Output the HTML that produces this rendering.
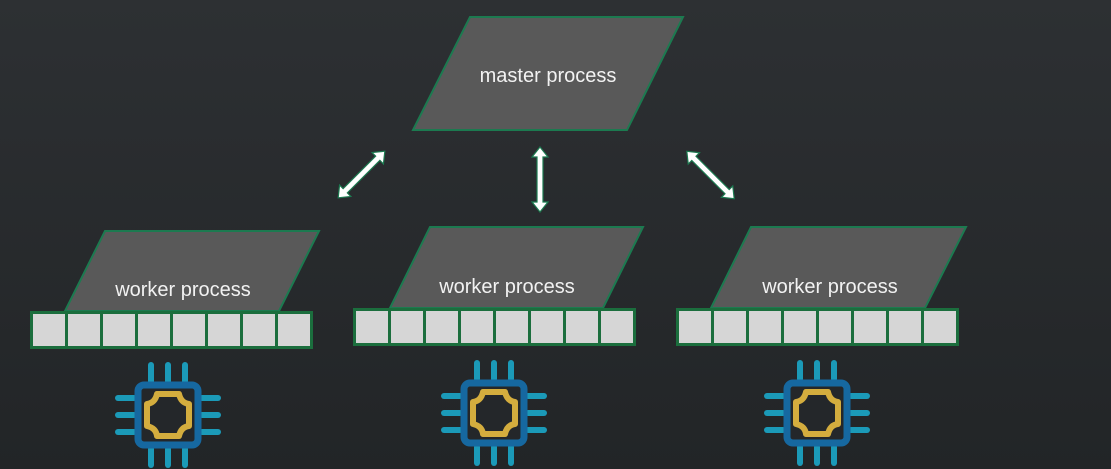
<!DOCTYPE html>
<html><head><meta charset="utf-8"><style>
html,body{margin:0;padding:0;}
body{width:1111px;height:469px;overflow:hidden;background:linear-gradient(#2d3033,#222527);}
svg{display:block;}
text{font-family:"Liberation Sans",sans-serif;fill:#f2f2f2;}
</style></head><body>
<svg width="1111" height="469" viewBox="0 0 1111 469">
<defs>
<g id="bar">
<rect x="0" y="0" width="283" height="38" fill="#1b6e3d"/>
<g fill="#d6d6d6">
<rect x="3" y="3" width="32" height="32"/><rect x="38" y="3" width="32" height="32"/>
<rect x="73" y="3" width="32" height="32"/><rect x="108" y="3" width="32" height="32"/>
<rect x="143" y="3" width="32" height="32"/><rect x="178" y="3" width="32" height="32"/>
<rect x="213" y="3" width="32" height="32"/><rect x="248" y="3" width="32" height="32"/>
</g>
</g>
<g id="cpu">
<g stroke="#1b9ab8" stroke-width="6" stroke-linecap="round">
<line x1="-17" y1="-50" x2="-17" y2="-34"/><line x1="0" y1="-50" x2="0" y2="-34"/><line x1="17" y1="-50" x2="17" y2="-34"/>
<line x1="-17" y1="50" x2="-17" y2="34"/><line x1="0" y1="50" x2="0" y2="34"/><line x1="17" y1="50" x2="17" y2="34"/>
<line y1="-17" x1="-50" y2="-17" x2="-34"/><line y1="0" x1="-50" y2="0" x2="-34"/><line y1="17" x1="-50" y2="17" x2="-34"/>
<line y1="-17" x1="50" y2="-17" x2="34"/><line y1="0" x1="50" y2="0" x2="34"/><line y1="17" x1="50" y2="17" x2="34"/>
</g>
<rect x="-30" y="-30" width="60" height="60" rx="6" fill="#24272a" stroke="#1668a0" stroke-width="7"/>
<path d="M-11,-21 H11 Q13,-12 21,-11 V11 Q13,12 11,21 H-11 Q-12,13 -21,11 V-11 Q-13,-12 -11,-21 Z" fill="none" stroke="#d4ad3e" stroke-width="6" stroke-linejoin="round"/>
</g>
</defs>

<polygon points="470,17 683,17 627,130 413,130" fill="#595959" stroke="#1c7a50" stroke-width="2"/>
<text x="548" y="82" font-size="20" text-anchor="middle">master process</text>

<!-- arrows -->
<g stroke="#1c7a50" stroke-width="1.2" fill="#ffffff">
<polygon transform="translate(361.5,174.5) rotate(-45)" points="-33,0 -23,-8 -23,-3 23,-3 23,-8 33,0 23,8 23,3 -23,3 -23,8"/>
<polygon transform="translate(540,179.5) rotate(90)" points="-32.5,0 -22.5,-8 -22.5,-3 22.5,-3 22.5,-8 32.5,0 22.5,8 22.5,3 -22.5,3 -22.5,8"/>
<polygon transform="translate(710.5,175) rotate(45)" points="-33.5,0 -23.5,-8 -23.5,-3 23.5,-3 23.5,-8 33.5,0 23.5,8 23.5,3 -23.5,3 -23.5,8"/>
</g>

<!-- worker 1 -->
<polygon points="105,231 319,231 279,311 65,311" fill="#595959" stroke="#1c7a50" stroke-width="2"/>
<text x="183" y="296" font-size="20" text-anchor="middle">worker process</text>
<use href="#bar" x="30" y="311"/>
<use href="#cpu" x="168" y="415"/>

<!-- worker 2 -->
<polygon points="430,227 643,227 603,308 390,308" fill="#595959" stroke="#1c7a50" stroke-width="2"/>
<text x="507" y="293" font-size="20" text-anchor="middle">worker process</text>
<use href="#bar" x="353" y="308"/>
<use href="#cpu" x="494" y="413"/>

<!-- worker 3 -->
<polygon points="751,227 966,227 925,308 711,308" fill="#595959" stroke="#1c7a50" stroke-width="2"/>
<text x="830" y="293" font-size="20" text-anchor="middle">worker process</text>
<use href="#bar" x="676" y="308"/>
<use href="#cpu" x="817" y="413"/>
</svg>
</body></html>
